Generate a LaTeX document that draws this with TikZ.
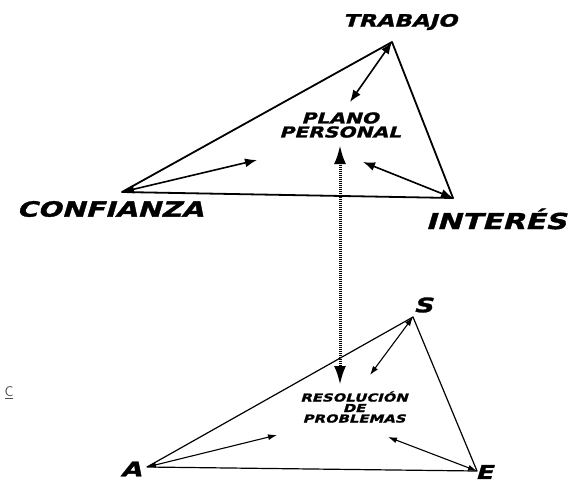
\documentclass[tikz,border=0pt]{standalone}
\usepackage{fontspec}
\newfontfamily\lblfont[FakeStretch=1.35, FakeSlant=0.3, FakeBold=1.5]{DejaVu Sans}
\usetikzlibrary{arrows.meta}

\begin{document}
\begin{tikzpicture}[x=1pt,y=-1pt,
		lbl/.style={font=\lblfont\bfseries\fontsize{#1}{#1}\selectfont, inner sep=0pt},
		bigside/.style={line width=1.8pt, line join=round},
		smallside/.style={line width=1.2pt, line join=round},
		bigarrow/.style={{Latex[length=12pt,width=9pt]}-{Latex[length=12pt,width=9pt]}, line width=1.6pt},
		smallarrow/.style={{Latex[length=9pt,width=6pt]}-{Latex[length=9pt,width=6pt]}, line width=1.1pt},
		dotarrow/.style={{Latex[length=19pt,width=12pt]}-{Latex[length=19pt,width=12pt]}, line width=3pt, dash pattern=on 1pt off 1pt}]
		\useasboundingbox (0,0) rectangle (577,483);

		% plano personal
		\coordinate (T) at (392,42);
		\coordinate (C) at (122,192);
		\coordinate (I) at (453,198);
		\draw[bigside] (C)--(T)--(I)--cycle;

		\node[lbl=17] (trabajo) at (400,22) {TRABAJO};
		\node[lbl=21] (confianza) at (110,209) {CONFIANZA};
		\node[lbl=22] (interes) at (496,219) {INTERÉS};
		\node[lbl=15, align=center, font=\lblfont\bfseries\fontsize{15}{14}\selectfont] (plano) at (340,125) {PLANO\\PERSONAL};

		\coordinate (t1) at (350,102);
		\coordinate (c1) at (257,160);
		\coordinate (i1) at (363,162);
		\draw[bigarrow] (T)--(t1);
		\draw[bigarrow] (C)--(c1);
		\draw[bigarrow] (I)--(i1);

		% enlace
		\coordinate (up) at (340,145);
		\coordinate (down) at (340,385);
		\draw[dotarrow] (up)--(down);

		% resolucion de problemas
		\coordinate (S) at (413,317);
		\coordinate (A) at (147,467);
		\coordinate (E) at (477,471);
		\draw[smallside] (A)--(S)--(E)--cycle;

		\node[lbl=20] (s) at (423,305) {S};
		\node[lbl=20] (a) at (131,469) {A};
		\node[lbl=19] (e) at (484,472) {E};
		\node[lbl=11, align=center, font=\lblfont\bfseries\fontsize{11}{10.5}\selectfont] (resol) at (354,407) {RESOLUCIÓN\\DE\\PROBLEMAS};

		\coordinate (s1) at (370,375);
		\coordinate (a1) at (277,435);
		\coordinate (e1) at (388,437);
		\draw[smallarrow] (S)--(s1);
		\draw[smallarrow] (A)--(a1);
		\draw[smallarrow] (E)--(e1);

		\node[font=\sffamily\fontsize{14}{14}\selectfont, text=black!70, inner sep=0pt] (c) at (9,393) {\underline{C}};
		\end{tikzpicture}
\end{document}
